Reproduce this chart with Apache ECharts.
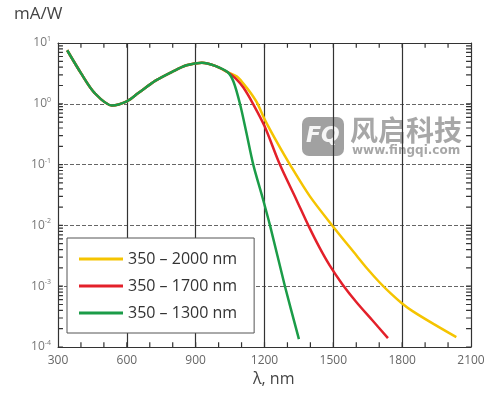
<!DOCTYPE html>
<html>
<head>
<meta charset="utf-8">
<script src="https://cdn.jsdelivr.net/npm/echarts@6/dist/echarts.min.js"></script>
<style>
  html, body { margin: 0; background: #fff; }
  #chart { width: 503px; height: 398px; }
</style>
</head>
<body>
<div id="chart"></div>
<script>
// shared part of the three curves (nm, mA/W)
const commonNm = [340, 400, 460, 535, 600, 650, 725, 800, 860, 927, 985, 1040]
const commonVal = [7.6, 3.2, 1.5, 0.94, 1.1, 1.5, 2.4, 3.4, 4.3, 4.75, 4.2, 3.3]

const yellowNm = [1080, 1108, 1140, 1170, 1200, 1250, 1311, 1398, 1495, 1601, 1650, 1702, 1750, 1797, 1847, 1940, 2036]
const yellowVal = [2.8, 2.15, 1.5, 1.0, 0.56, 0.25, 0.1, 0.03, 0.01, 3.2e-3, 1.9e-3, 1.15e-3, 7.6e-4, 5.3e-4, 3.85e-4, 2.35e-4, 1.45e-4]

const redNm = [1075, 1108, 1150, 1200, 1267, 1340, 1391, 1440, 1484, 1540, 1600, 1670, 1738]
const redVal = [2.6, 1.85, 1.0, 0.43, 0.1, 0.026, 0.01, 4.3e-3, 2.2e-3, 1.07e-3, 5.5e-4, 2.75e-4, 1.4e-4]

const greenNm = [1065, 1093, 1120, 1151, 1190, 1224, 1289, 1350]
const greenVal = [2.3, 1.0, 0.35, 0.1, 0.03, 0.01, 1e-3, 1.35e-4]

const seriesNames = ['350 – 2000 nm', '350 – 1700 nm', '350 – 1300 nm']
const seriesColors = ['#F5C400', '#E3202A', '#1B9C48']

// frame tick marks (inside ticks)
const xTickNm = [400, 500, 600, 700, 800, 900, 1000, 1100, 1200, 1300, 1400, 1500, 1600, 1700, 1800, 1900, 2000]
const decadeExp = [-4, -3, -2, -1, 0]
const minorFactors = [1, 2, 3, 4, 5, 6, 7, 8, 9]

const toPairs = (nm, val) => nm.map((x, i) => [x, val[i]])
const curves = [
  toPairs(commonNm.concat(yellowNm), commonVal.concat(yellowVal)),
  toPairs(commonNm.concat(redNm), commonVal.concat(redVal)),
  toPairs(commonNm.concat(greenNm), commonVal.concat(greenVal))
]

// tick marks as short line segments drawn through the axes' own scales
const yTickVals = decadeExp.flatMap((e) => minorFactors.map((f) => f * Math.pow(10, e)))

const font = '"Open Sans", sans-serif'
const chart = echarts.init(document.getElementById('chart'))

const xRange = { type: 'value', min: 300, max: 2100, interval: 300 }
const yRange = { type: 'log', logBase: 10, min: 1e-4, max: 10 }
const frameLine = { show: true, lineStyle: { color: '#333', width: 1 } }
const tickStyle = { color: '#333', width: 1.2 }

const tickSeries = (data, idx) => ({
  type: 'line',
  data: data,
  symbol: 'none',
  silent: true,
  xAxisIndex: idx[0],
  yAxisIndex: idx[1],
  lineStyle: tickStyle,
  color: '#333',
  z: 2
})

// each tick is a 2-point line; the helper axes 2/3 span 0..1 over the grid
const xTickLines = []
xTickNm.forEach((v) => {
  xTickLines.push([v, 0], [v, 0.016], null, [v, 1], [v, 0.984], null)
})
const yTickLines = []
yTickVals.forEach((v) => {
  yTickLines.push([0, v], [0.012, v], null, [1, v], [0.988, v], null)
})

const option = {
  animation: false,
  backgroundColor: '#fff',
  grid: { left: 58, right: 32, top: 43, bottom: 51 },
  legend: {
    data: seriesNames,
    orient: 'vertical',
    left: 67,
    top: 238,
    icon: 'rect',
    itemWidth: 44,
    itemHeight: 3,
    itemGap: 11,
    padding: [13, 17, 12, 12],
    borderColor: '#555',
    borderWidth: 1,
    backgroundColor: '#fff',
    textStyle: { fontFamily: font, fontSize: 16, color: '#333' }
  },
  xAxis: [
    Object.assign({}, xRange, {
      position: 'bottom',
      axisLine: frameLine,
      axisTick: { show: false },
      axisLabel: { margin: 8, fontFamily: font, fontSize: 12, color: '#666', formatter: (v) => String(v) },
      splitLine: { show: true, lineStyle: { color: '#333', width: 1.2 } }
    }),
    Object.assign({}, xRange, {
      position: 'top',
      axisLine: frameLine,
      axisTick: { show: false },
      axisLabel: { show: false },
      splitLine: { show: false }
    }),
    { type: 'value', min: 0, max: 1, show: false }
  ],
  yAxis: [
    Object.assign({}, yRange, {
      position: 'left',
      axisLine: frameLine,
      axisTick: { show: false },
      axisLabel: {
        margin: 7,
        formatter: (v) => '{b|10}{s|' + Math.round(Math.log10(v)) + '}',
        rich: {
          b: { fontFamily: font, fontSize: 12, color: '#777' },
          s: { fontFamily: font, fontSize: 7, color: '#777', padding: [0, 0, 8, 0] }
        }
      },
      splitLine: { show: true, lineStyle: { color: '#666', type: [4, 2], width: 1 } }
    }),
    Object.assign({}, yRange, {
      position: 'right',
      axisLine: frameLine,
      axisTick: { show: false },
      axisLabel: { show: false },
      splitLine: { show: false }
    }),
    { type: 'value', min: 0, max: 1, show: false }
  ],
  series: curves.map((data, i) => ({
    name: seriesNames[i],
    type: 'line',
    data: data,
    smooth: 0.3,
    symbol: 'none',
    color: seriesColors[i],
    lineStyle: { color: seriesColors[i], width: 2.5 },
    z: 3 + i
  })).concat([
    tickSeries(xTickLines, [0, 2]),
    tickSeries(yTickLines, [2, 0])
  ]),
  graphic: [
    {
      type: 'text', left: 14, top: 6,
      style: { text: 'mA/W', font: '17px ' + font, fill: '#444' }
    },
    {
      type: 'text', left: 253, top: 371,
      style: { text: 'λ, nm', font: '16px ' + font, fill: '#444' }
    },
    {
      type: 'group', left: 302, top: 116, z: 100,
      children: [
        {
          type: 'rect', shape: { x: 0, y: 0, width: 42, height: 39, r: 7 },
          style: { fill: 'rgba(130,130,130,0.75)' }
        },
        {
          type: 'text', x: 4, y: 8,
          style: { text: 'FQ', font: 'italic bold 22px "DejaVu Sans", sans-serif', fill: 'rgba(255,255,255,0.9)' }
        },
        {
          type: 'text', x: 48, y: -1,
          style: { text: '风启科技', font: 'bold 28px "Noto Sans CJK SC", sans-serif', fill: 'rgba(130,130,130,0.7)' }
        },
        {
          type: 'text', x: 50, y: 28,
          style: { text: 'www.fingqi.com', font: 'bold 12px "DejaVu Sans", sans-serif', fill: 'rgba(130,130,130,0.7)' }
        }
      ]
    }
  ]
}

chart.setOption(option)
</script>
</body>
</html>
